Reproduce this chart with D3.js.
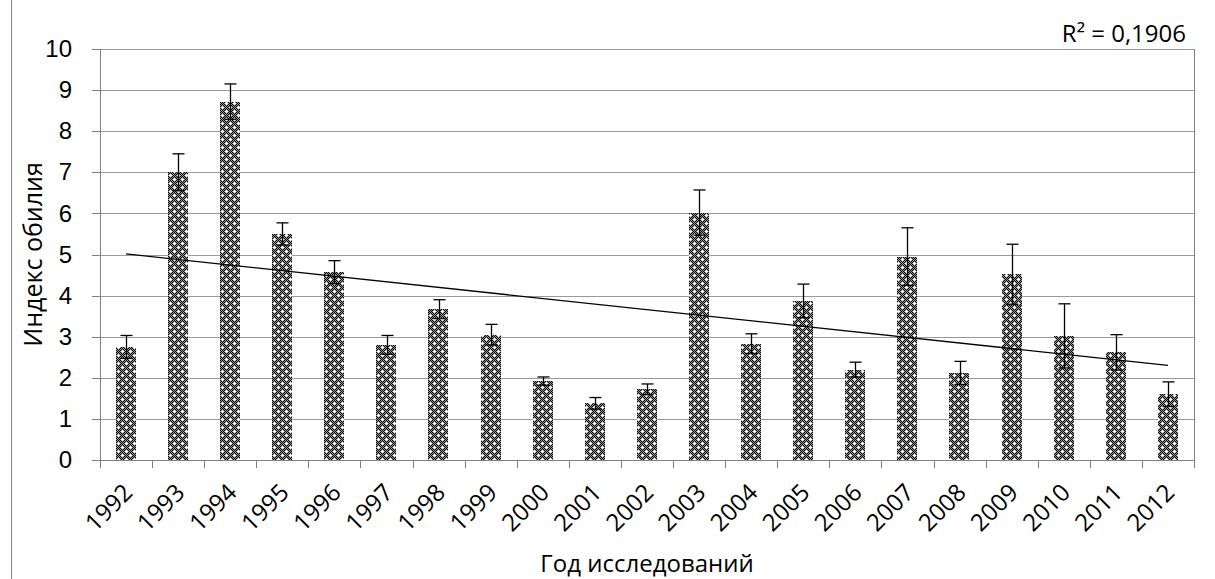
<!DOCTYPE html>
<meta charset="utf-8">
<style>
    body { margin: 0; background: #fff; }
    svg { font-family: "Open Sans", sans-serif; }
    .axis text { font-size: 24px; fill: #000; }
    .axis path, .axis line { stroke: #808080; shape-rendering: crispEdges; }
    .grid line { stroke: #9a9a9a; shape-rendering: crispEdges; }
</style>
<svg class="chart"></svg>
<script src="https://d3js.org/d3.v7.min.js" charset="utf-8"></script>
<script>

    const years = ["1992", "1993", "1994", "1995", "1996", "1997", "1998", "1999", "2000", "2001", "2002",
        "2003", "2004", "2005", "2006", "2007", "2008", "2009", "2010", "2011", "2012"];
    const values = [2.75, 7.0, 8.72, 5.5, 4.57, 2.8, 3.67, 3.05, 1.92, 1.38, 1.72,
        6.02, 2.83, 3.87, 2.2, 4.95, 2.12, 4.52, 3.02, 2.62, 1.6];
    const errors = [0.28, 0.45, 0.43, 0.27, 0.28, 0.23, 0.23, 0.25, 0.1, 0.14, 0.13,
        0.55, 0.24, 0.41, 0.18, 0.7, 0.28, 0.73, 0.78, 0.43, 0.3];
    const yTicks = [0, 1, 2, 3, 4, 5, 6, 7, 8, 9, 10];
    const r2Label = "R² = 0,1906";
    const xTitle = "Год исследований";
    const yTitle = "Индекс обилия";

    const W = 1215, H = 579;
    const margin = {top: 49, right: 21, bottom: 119, left: 100};
    const width = W - margin.left - margin.right,
        height = H - margin.top - margin.bottom;

    const data = years.map((y, i) => ({year: y, value: values[i], err: errors[i], i: i}));

    const svg = d3.select(".chart")
        .attr("width", W)
        .attr("height", H);

    // fill pattern: dark 1px checkerboard with white crosses
    const pat = svg.append("defs").append("pattern")
        .attr("id", "dots")
        .attr("patternUnits", "userSpaceOnUse")
        .attr("width", 8).attr("height", 8);
    pat.append("rect").attr("width", 8).attr("height", 8).attr("fill", "#fff");
    const holes = ["2,2", "1,2", "3,2", "2,1", "2,3", "6,6", "5,6", "7,6", "6,5", "6,7"];
    for (let i = 0; i < 8; i++) {
        for (let j = 0; j < 8; j++) {
            if (holes.includes(i + "," + j)) continue;
            pat.append("rect").attr("x", i).attr("y", j)
                .attr("width", 1).attr("height", 1)
                .attr("fill", (i + j) % 2 === 1 ? "#000" : "#9a9a9a");
        }
    }

    // outer left border of the chart area
    svg.append("line")
        .attr("x1", 11.5).attr("x2", 11.5)
        .attr("y1", 0).attr("y2", H)
        .attr("stroke", "#808080");

    const chart = svg.append("g")
        .attr("transform", "translate(" + margin.left + "," + margin.top + ")");

    const x = d3.scaleBand()
        .domain(years)
        .range([0, width])
        .padding(0);

    const y = d3.scaleLinear()
        .domain([0, 10])
        .range([height, 0]);

    // gridlines
    chart.append("g")
        .attr("class", "grid")
        .selectAll("line")
        .data(yTicks.filter(d => d > 0))
        .join("line")
        .attr("x1", 0).attr("x2", width)
        .attr("y1", d => Math.round(y(d)) + 0.5)
        .attr("y2", d => Math.round(y(d)) + 0.5);

    // plot area right border
    chart.append("line")
        .attr("x1", width + 0.5).attr("x2", width + 0.5)
        .attr("y1", 0).attr("y2", height)
        .attr("stroke", "#808080")
        .style("shape-rendering", "crispEdges");

    const barW = x.bandwidth() * 0.39;

    chart.append("g")
        .selectAll("rect")
        .data(data)
        .join("rect")
        .attr("x", d => Math.round(x(d.year) + (x.bandwidth() - barW) / 2))
        .attr("y", d => Math.round(y(d.value)))
        .attr("width", Math.round(barW))
        .attr("height", d => Math.round(height - y(d.value)))
        .attr("fill", "url(#dots)");

    // error bars
    const eb = chart.append("g")
        .attr("stroke", "#000")
        .attr("stroke-width", 1.3)
        .selectAll("g")
        .data(data)
        .join("g")
        .attr("transform", d => "translate(" + (Math.round(x(d.year) + x.bandwidth() / 2) + 0.5) + ",0)");
    eb.append("line")
        .attr("y1", d => y(d.value - d.err))
        .attr("y2", d => y(d.value + d.err));
    eb.append("line")
        .attr("x1", -6).attr("x2", 6)
        .attr("y1", d => y(d.value + d.err))
        .attr("y2", d => y(d.value + d.err));
    eb.append("line")
        .attr("x1", -6).attr("x2", 6)
        .attr("y1", d => y(d.value - d.err))
        .attr("y2", d => y(d.value - d.err));

    // linear trend (least squares on bar values)
    const n = data.length;
    const mx = d3.mean(data, d => d.i), my = d3.mean(data, d => d.value);
    const slope = d3.sum(data, d => (d.i - mx) * (d.value - my)) / d3.sum(data, d => (d.i - mx) * (d.i - mx));
    const icpt = my - slope * mx;
    chart.append("line")
        .attr("x1", x(years[0]) + x.bandwidth() / 2)
        .attr("x2", x(years[n - 1]) + x.bandwidth() / 2)
        .attr("y1", y(icpt))
        .attr("y2", y(icpt + slope * (n - 1)))
        .attr("stroke", "#000")
        .attr("stroke-width", 1.3);

    // axes
    const yAxis = d3.axisLeft(y).tickValues(yTicks).tickSize(8).tickPadding(20);
    chart.append("g")
        .attr("class", "y axis")
        .call(yAxis)
        .call(g => g.select(".domain").attr("d", "M0.5," + height + "V0"));

    const xAxis = chart.append("g")
        .attr("class", "x axis")
        .attr("transform", "translate(0," + height + ")");
    xAxis.append("line")
        .attr("x1", 0).attr("x2", width)
        .attr("y1", 0.5).attr("y2", 0.5);
    xAxis.selectAll("line.tk")
        .data(d3.range(years.length + 1))
        .join("line")
        .attr("class", "tk")
        .attr("x1", d => Math.round(d * x.step()) + 0.5)
        .attr("x2", d => Math.round(d * x.step()) + 0.5)
        .attr("y1", 0).attr("y2", 8);
    xAxis.selectAll("text")
        .data(years)
        .join("text")
        .attr("text-anchor", "end")
        .attr("transform", d => "translate(" + (x(d) + x.bandwidth() / 2 + 8) + ",34) rotate(-45)")
        .text(d => d);

    // titles
    svg.append("text")
        .attr("x", 647).attr("y", 572)
        .attr("text-anchor", "middle")
        .attr("font-size", 24)
        .text(xTitle);

    svg.append("text")
        .attr("transform", "translate(42," + (margin.top + height / 2) + ") rotate(-90)")
        .attr("text-anchor", "middle")
        .attr("font-size", 25)
        .text(yTitle);

    svg.append("text")
        .attr("x", 1186).attr("y", 42)
        .attr("text-anchor", "end")
        .attr("font-size", 24)
        .text(r2Label);

</script>
